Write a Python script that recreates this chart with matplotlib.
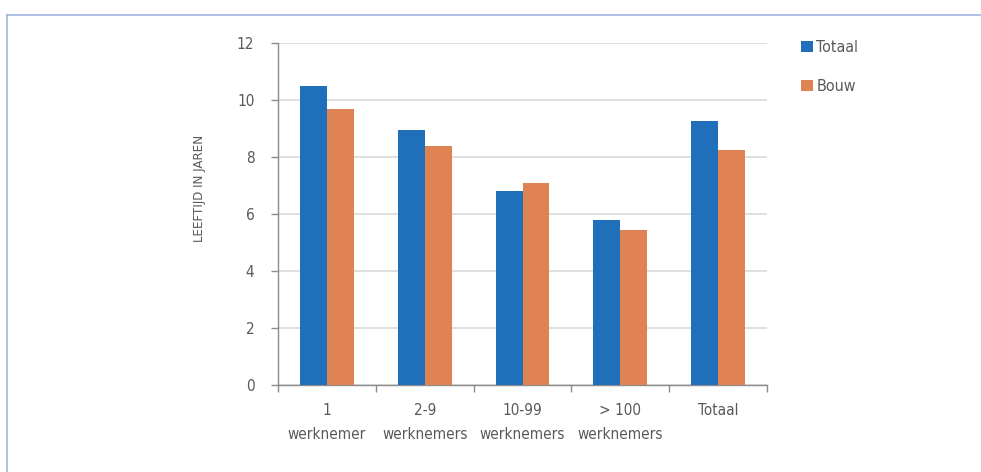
import matplotlib
matplotlib.use("Agg")
import matplotlib.pyplot as plt
import numpy as np
from matplotlib.lines import Line2D
from matplotlib.patches import Patch

categories = ["1\nwerknemer", "2-9\nwerknemers", "10-99\nwerknemers", "> 100\nwerknemers", "Totaal"]
totaal = [10.5, 8.95, 6.8, 5.8, 9.27]
bouw = [9.7, 8.4, 7.1, 5.45, 8.25]
series_names = ["Totaal", "Bouw"]
yticks = [0, 2, 4, 6, 8, 10, 12]

blue = "#1f6fba"
orange = "#e08354"
txt = "#595959"

plt.rcParams['font.family'] = ['Liberation Sans Narrow', 'DejaVu Sans']
plt.rcParams['font.stretch'] = 'condensed'

fig = plt.figure(figsize=(9.81, 4.72), dpi=100)
ax = fig.add_axes([278/981, 1 - 385/472, 489/981, 342/472])

x = np.arange(len(categories))
w = 0.275
ax.bar(x - w/2, totaal, width=w, color=blue, zorder=3)
ax.bar(x + w/2, bouw, width=w, color=orange, zorder=3)

ax.set_xlim(-0.5, len(categories) - 0.5)
ax.set_ylim(0, 12)
ax.set_yticks(yticks)
ax.set_yticklabels([str(t) for t in yticks], fontsize=11, color=txt)
ax.yaxis.grid(True, color="#d9d9d9", linewidth=1.2, zorder=0)
ax.set_axisbelow(True)

ax.set_xticks(x)
ax.set_xticklabels(categories, fontsize=11, color=txt, linespacing=1.75)
ax.tick_params(axis='x', length=0, pad=13)
ax.set_xticks(np.arange(-0.5, len(categories)), minor=True)
ax.tick_params(axis='x', which='minor', length=5, color="#8c8c8c", width=1)
ax.tick_params(axis='y', length=5, color="#8c8c8c", width=1, pad=12)

for s in ["top", "right"]:
    ax.spines[s].set_visible(False)
for s in ["left", "bottom"]:
    ax.spines[s].set_color("#8c8c8c")
    ax.spines[s].set_linewidth(1)

fig.text(200/981, 1 - 188/472, "LEEFTIJD IN JAREN", rotation=90, ha="center", va="center",
         fontsize=9.5, color=txt)

handles = [Patch(facecolor=blue), Patch(facecolor=orange)]
leg = fig.legend(handles, series_names, loc="upper left", bbox_to_anchor=(801/981, 1 - 40/472),
                 frameon=False, fontsize=11.5, labelcolor=txt, handlelength=0.75, handleheight=0.75,
                 handletextpad=0.2, labelspacing=1.5, borderaxespad=0, borderpad=0)

# border lines
fig.add_artist(Line2D([7/981, 7/981], [0, 1 - 15/472], color="#a3b5e0", linewidth=1.2))
fig.add_artist(Line2D([7/981, 1], [1 - 15/472, 1 - 15/472], color="#a3b5e0", linewidth=1.2))

fig.savefig("out.png", dpi=100)
